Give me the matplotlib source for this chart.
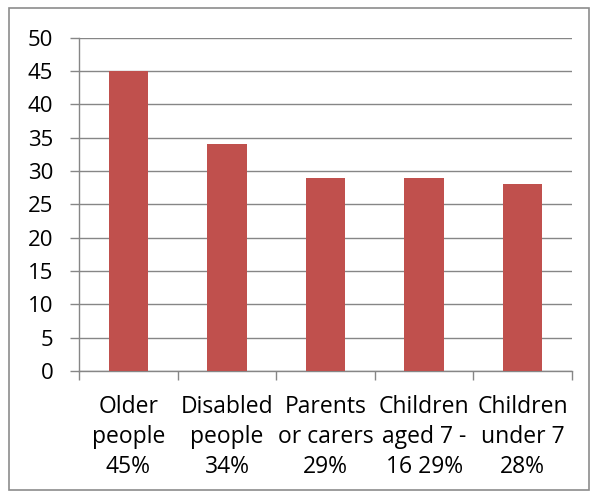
import numpy as np
import matplotlib.pyplot as plt
from matplotlib.patches import Rectangle

categories = ["Older\npeople\n45%", "Disabled\npeople\n34%", "Parents\nor carers\n29%",
              "Children\naged 7 -\n16 29%", "Children\nunder 7\n28%"]
values = [45, 34, 29, 29, 28]
yticks = list(range(0, 51, 5))

plt.rcParams['font.family'] = ['Open Sans', 'DejaVu Sans']

fig = plt.figure(figsize=(5.99, 4.98), dpi=100)
ax = fig.add_axes([0.132, 0.255, 0.823, 0.669])

# outer chart border
fig.patches.append(Rectangle((9 / 599, 1 - 490 / 498), 580 / 599, 482 / 498,
                             transform=fig.transFigure, fill=False,
                             edgecolor='#8c8c8c', linewidth=1.2))

x = np.arange(len(values))
ax.bar(x, values, width=0.4, color='#C0504D', zorder=3)

ax.set_xlim(-0.5, len(values) - 0.5)
ax.set_ylim(0, 50)
ax.set_yticks(yticks)
ax.set_yticklabels([str(t) for t in yticks], fontsize=16)
ax.yaxis.grid(True, color='#868686', linewidth=1.0, zorder=0)
ax.tick_params(axis='y', length=6.5, color='#868686', width=1.0, pad=12)

# category boundaries as major ticks, labels on minor ticks
ax.set_xticks(np.arange(-0.5, len(values), 1.0))
ax.set_xticklabels([])
ax.set_xticks(x, minor=True)
ax.set_xticklabels(categories, minor=True, fontsize=16.5, linespacing=1.33)
ax.tick_params(axis='x', which='major', length=6.5, color='#868686', width=1.0)
ax.tick_params(axis='x', which='minor', length=0, pad=17)

for s in ['top', 'right']:
    ax.spines[s].set_visible(False)
for s in ['left', 'bottom']:
    ax.spines[s].set_color('#868686')
    ax.spines[s].set_linewidth(1.0)

fig.savefig('out.png', dpi=100)
